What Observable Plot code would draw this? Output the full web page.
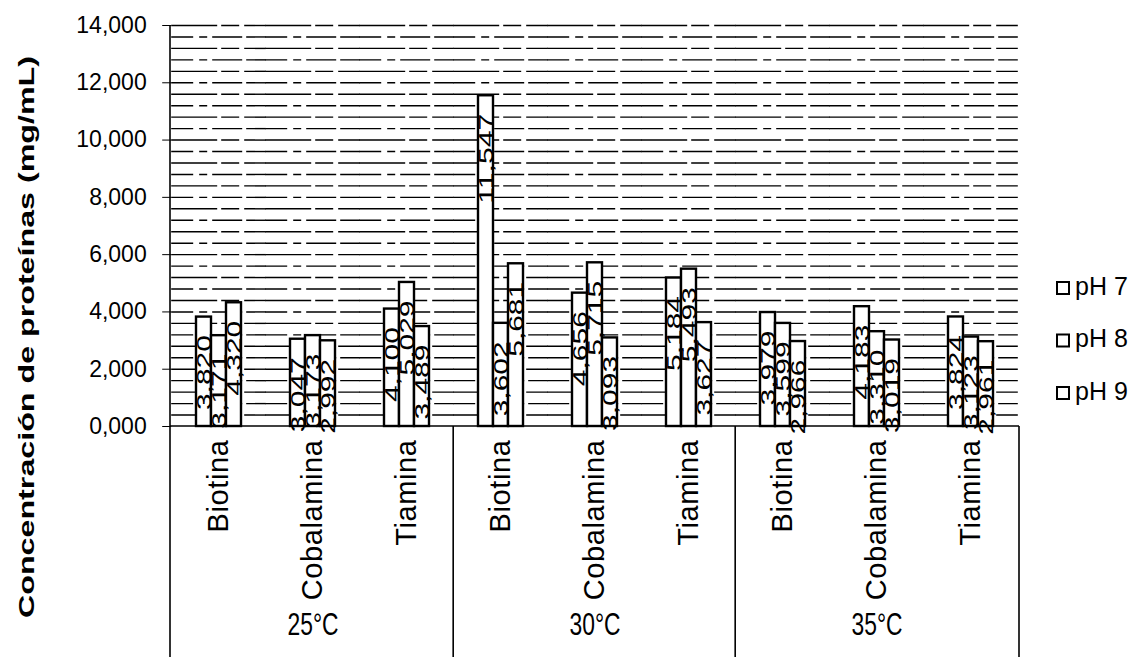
<!DOCTYPE html>
<html><head><meta charset="utf-8">
<script src="https://cdn.jsdelivr.net/npm/d3@7"></script>
<script src="https://cdn.jsdelivr.net/npm/@observablehq/plot@0.6"></script>
<style>
html,body{margin:0;padding:0;background:#fff}
#chart{position:relative;width:1135px;height:657px}
svg{font-family:"Liberation Sans",Arial,sans-serif}
</style></head><body><div id="chart"></div>
<script>
// ---- data ----
const temperatures = ["25°C", "30°C", "35°C"];
const vitamins = ["Biotina", "Cobalamina", "Tiamina"];
const phLevels = ["pH 7", "pH 8", "pH 9"];
const yTicks = [0, 2, 4, 6, 8, 10, 12, 14];
// order: 25°C (Biotina, Cobalamina, Tiamina), 30°C (...), 35°C (...)
const ph7 = [3.820, 3.047, 4.100, 11.547, 4.656, 5.184, 3.979, 4.183, 3.824];
const ph8 = [3.171, 3.173, 5.029, 3.602, 5.715, 5.493, 3.599, 3.310, 3.123];
const ph9 = [4.320, 2.992, 3.489, 5.681, 3.093, 3.627, 2.966, 3.019, 2.961];
const yTitle = "Concentración de proteínas (mg/mL)";

// ---- layout ----
const W = 1135, H = 657, ML = 170, MR = 116, MT = 25, MB = 231;
const padIn = 0.526, padOut = 0.263;
const nBands = vitamins.length * temperatures.length;
const step = (W - ML - MR) / (nBands - padIn + 2 * padOut);
const halfGap = padIn * step / 2;

const series = [ph7, ph8, ph9];
const keyOf = (t, v) => t + "|" + v;
const keys = [];
temperatures.forEach(t => vitamins.forEach(v => keys.push(keyOf(t, v))));
const rows = [];
temperatures.forEach((t, ti) => vitamins.forEach((v, vi) => phLevels.forEach((p, pi) =>
  rows.push({key: keyOf(t, v), temp: t, vitamin: v, ph: p, value: series[pi][ti * vitamins.length + vi]}))));
const fmt = v => d3.format(".3f")(v).replace(".", ",");
const gridVals = d3.range(1, 36).map(i => +(i * 0.4).toFixed(1));

const plot = Plot.plot({
  width: W, height: H, marginLeft: ML, marginRight: MR, marginTop: MT, marginBottom: MB,
  style: {fontFamily: '"Liberation Sans", Arial, sans-serif', fontSize: "22px", color: "#000", background: "#fff", overflow: "visible"},
  fx: {domain: keys, paddingInner: padIn, paddingOuter: padOut, axis: "bottom", tickRotate: -90,
       tickFormat: d => d.split("|")[1], tickSize: 0, tickPadding: 13, label: null},
  x: {domain: phLevels, padding: 0, axis: null},
  y: {domain: [0, 14], axis: null},
  marks: [
    Plot.ruleY(gridVals.filter((d, i) => i % 2 === 0), {stroke: "#000", strokeWidth: 1.4, strokeDasharray: "46 4 18 5", insetLeft: -halfGap, insetRight: -halfGap}),
    Plot.ruleY(gridVals.filter((d, i) => i % 2 === 1), {stroke: "#000", strokeWidth: 1.4, strokeDasharray: "22 6 8 5 30 4", insetLeft: -halfGap, insetRight: -halfGap}),
    Plot.axisY(yTicks, {anchor: "left", tickFormat: fmt, tickSize: 9, tickPadding: 16, dx: -halfGap, fontSize: 23, label: null}),
    Plot.barY(rows, {fx: "key", x: "ph", y: "value", fill: "#fff", stroke: "#000", strokeWidth: 2.4}),
    Plot.text(rows, {fx: "key", x: "ph", y: "value", text: d => fmt(d.value), rotate: -90, textAnchor: "end", dy: 18, fontSize: 21, fill: "#000"}),
    Plot.text(temperatures.map(t => ({key: keyOf(t, vitamins[1]), temp: t})), {fx: "key", text: "temp", frameAnchor: "bottom", dy: 208, fontSize: 31, fill: "#000"})
  ]
});
document.getElementById("chart").appendChild(plot);

// ---- text styling, frame lines, title, legend ----
const svg = d3.select(plot);
svg.selectAll('g[aria-label="text"] text').each(function () {
  const s = this.textContent;
  if (/\d,\d{3}/.test(s)) {
    d3.select(this).attr("textLength", s.length * 15).attr("lengthAdjust", "spacingAndGlyphs");
  } else if (/°C/.test(s)) {
    d3.select(this).attr("textLength", 51).attr("lengthAdjust", "spacingAndGlyphs");
  }
});
svg.selectAll('g[aria-label="fx-axis tick label"] text')
  .style("font-size", "29px").style("letter-spacing", "0.6px");
const fxS = plot.scale("fx"), yS = plot.scale("y");
const y0 = yS.apply(0), yTop = yS.apply(14);
const g = svg.append("g").attr("stroke", "#000").attr("stroke-width", 1.6);
g.append("line").attr("x1", ML).attr("x2", ML).attr("y1", yTop).attr("y2", H);
g.append("line").attr("x1", ML).attr("x2", W - MR).attr("y1", y0).attr("y2", y0);
temperatures.slice(1).forEach(t => {
  const x = fxS.apply(keyOf(t, vitamins[0])) - halfGap;
  g.append("line").attr("x1", x).attr("x2", x).attr("y1", y0).attr("y2", H);
});
g.append("line").attr("x1", W - MR).attr("x2", W - MR).attr("y1", y0).attr("y2", H);

svg.append("text")
  .attr("transform", `translate(28,337) rotate(-90)`)
  .attr("text-anchor", "middle").attr("dominant-baseline", "middle")
  .attr("textLength", 562).attr("lengthAdjust", "spacingAndGlyphs")
  .style("font-weight", "bold").style("font-size", "22px")
  .text(yTitle);

const leg = svg.append("g");
phLevels.forEach((p, i) => {
  const cy = 288 + i * 52.5;
  leg.append("rect").attr("x", 1057).attr("y", cy - 6).attr("width", 12).attr("height", 12)
    .attr("fill", "#fff").attr("stroke", "#000").attr("stroke-width", 2);
  leg.append("text").attr("x", 1075).attr("y", cy).attr("text-anchor", "start").attr("dominant-baseline", "middle")
    .style("font-size", "25px").text(p);
});
</script></body></html>
